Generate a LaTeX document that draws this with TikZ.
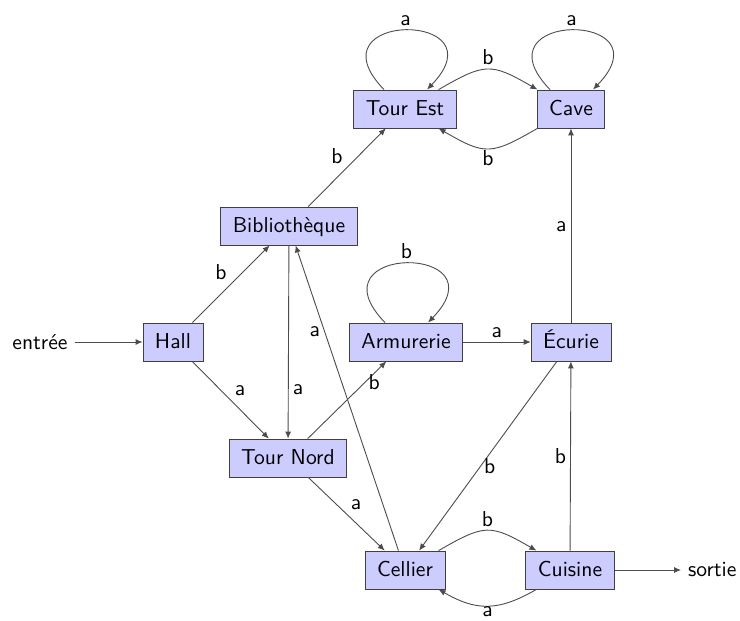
\documentclass[tikz,border=0pt]{standalone}
\usepackage{fontspec}
\usetikzlibrary{arrows.meta}
\begin{document}
\begin{tikzpicture}[x=0.5pt,y=0.5pt,
  font=\sffamily\fontsize{10.8}{13}\selectfont,
  state/.style={draw=black!75, fill=blue!20, inner xsep=6pt, inner ysep=2pt,
    minimum height=19pt, text height=8pt, text depth=2pt},
  edge/.style={draw=black!70, line width=0.45pt, -{Latex[length=3.5pt,width=3pt]}},
  lbl/.style={inner sep=2pt, text height=6pt, text depth=0pt},
  selfloop/.style={out=134, in=46, distance=55pt}]
\useasboundingbox (0,0) rectangle (740,-621);

\node[state] (te) at (405,-109) {Tour Est};
\node[state] (cave) at (571,-109) {Cave};
\node[state] (bib) at (289,-226) {Bibliothèque};
\node[state] (hall) at (173,-342) {Hall};
\node[state] (arm) at (406,-342) {Armurerie};
\node[state] (ecu) at (571,-342) {Écurie};
\node[state] (tn) at (288,-458) {Tour Nord};
\node[state] (cel) at (405,-570) {Cellier};
\node[state] (cui) at (570,-570) {Cuisine};
\node (in) at (40,-342) {entrée};
\node[anchor=west] (out) at (681,-570) {sortie};

\draw[edge] (in) -- (hall);
\draw[edge] (cui) -- (out);

\draw[edge] ([xshift=-10.5pt]te.north) to[selfloop] node[above,lbl]{a} ([xshift=11pt]te.north);
\draw[edge] ([xshift=-10.5pt]cave.north) to[selfloop] node[above,lbl]{a} ([xshift=11pt]cave.north);
\draw[edge] ([xshift=-10.5pt]arm.north) to[selfloop] node[above,lbl]{b} ([xshift=11pt]arm.north);

\draw[edge] (te) to[bend left=30, looseness=1.4] node[above,lbl]{b} (cave);
\draw[edge] (cave) to[bend left=30, looseness=1.4] node[below,lbl]{b} (te);
\draw[edge] (cel) to[bend left=30, looseness=1.4] node[above,lbl]{b} (cui);
\draw[edge] (cui) to[bend left=30, looseness=1.15] node[below,lbl,inner sep=0.3pt,yshift=1pt]{a} (cel);

\draw[edge] (hall) -- node[above left,lbl]{b} (bib);
\draw[edge] (hall) -- node[above right,lbl]{a} (tn);
\draw[edge] (bib) -- node[above left,lbl]{b} (te);
\draw[edge] (bib) -- node[pos=0.74,right,lbl]{a} (tn);
\draw[edge] (cel) -- node[pos=0.72,left,lbl]{a} (bib);
\draw[edge] (tn) -- node[pos=0.72,right,lbl]{b} (arm);
\draw[edge] (tn) -- node[above right,lbl]{a} (cel);
\draw[edge] (arm) -- node[above,lbl]{a} (ecu);
\draw[edge] (ecu) -- node[left,lbl]{a} (cave);
\draw[edge] (ecu) -- node[pos=0.56,right,lbl]{b} (cel);
\draw[edge] (cui) -- node[pos=0.49,left,lbl]{b} (ecu);
\end{tikzpicture}
\end{document}
